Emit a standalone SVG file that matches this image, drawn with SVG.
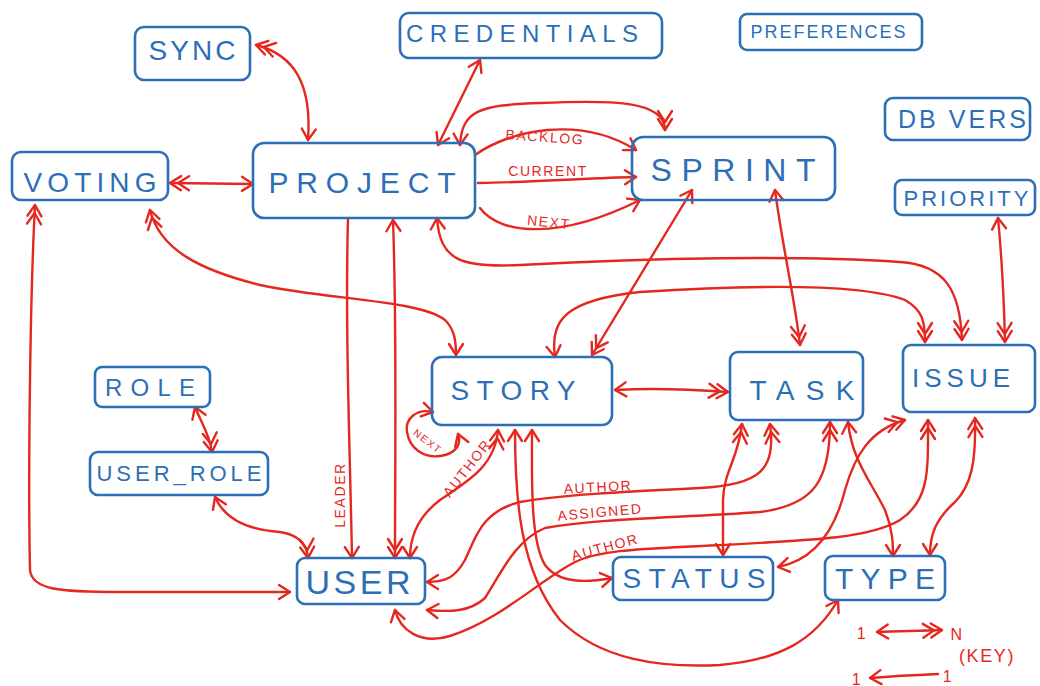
<svg xmlns="http://www.w3.org/2000/svg" width="1040" height="686" viewBox="0 0 1040 686">
  <style>
    .box { fill: none; stroke: #2c6fb7; stroke-width: 2.6; stroke-linejoin: round; }
    .name { fill: #2c6fb7; font-family: "Liberation Sans", "DejaVu Sans", sans-serif; text-anchor: middle; }
    .link { fill: none; stroke: #e5281f; stroke-width: 2.4; stroke-linecap: round; }
    .one-start { marker-start: url(#one); }
    .one-end { marker-end: url(#one); }
    .many-start { marker-start: url(#many); }
    .many-end { marker-end: url(#many); }
    .lbl { fill: #e5281f; font-family: "Liberation Sans", "DejaVu Sans", sans-serif; font-size: 14px; letter-spacing: 1.6px; text-anchor: middle; }
  </style>
  <defs>
    <!-- single chevron: the "1" end -->
    <marker id="one" viewBox="-14 -9 16 18" markerWidth="16" markerHeight="18" refX="0" refY="0" orient="auto-start-reverse" markerUnits="userSpaceOnUse">
      <path d="M-11,-7 L0,0 L-11,7" fill="none" stroke="#e5281f" stroke-width="2.4" stroke-linecap="round" stroke-linejoin="round"/>
    </marker>
    <!-- double chevron: the "N" end -->
    <marker id="many" viewBox="-22 -9 24 18" markerWidth="24" markerHeight="18" refX="0" refY="0" orient="auto-start-reverse" markerUnits="userSpaceOnUse">
      <path d="M-11,-7 L0,0 L-11,7 M-19,-7 L-8,0 L-19,7" fill="none" stroke="#e5281f" stroke-width="2.4" stroke-linecap="round" stroke-linejoin="round"/>
    </marker>
  </defs>
  <rect width="1040" height="686" fill="#ffffff"/>

  <g id="connectors">
    <path class="link many-start one-end" d="M256,45 C295,55 312,85 308,140"/>
    <path class="link one-start one-end" d="M480,60 L438,145"/>
    <path class="link one-start many-end" d="M460,145 C462,110 480,105 540,103 C610,100 665,100 665,130"/>
    <path class="link one-end" d="M475,155 C510,130 580,115 636,150"/>
    <path class="link one-end" d="M478,183 C540,182 590,178 636,177"/>
    <path class="link one-end" d="M480,208 C500,235 560,240 640,200"/>
    <path class="link many-start one-end" d="M170,183 L253,184"/>
    <path class="link one-start many-end" d="M437,218 C440,260 460,268 520,265 C650,258 800,255 900,262 C945,265 960,290 962,340"/>
    <path class="link one-start many-end" d="M555,357 C550,320 565,300 640,292 C750,285 860,283 905,300 C922,310 925,320 925,342"/>
    <path class="link one-start many-end" d="M692,190 L592,355"/>
    <path class="link one-start many-end" d="M775,190 C783,250 795,300 800,345"/>
    <path class="link many-start one-end" d="M150,210 C160,250 200,270 260,285 C330,300 420,300 445,320 C455,330 456,342 456,355"/>
    <path class="link many-start one-end" d="M35,205 C30,300 28,480 30,570 C32,590 60,592 120,592 L290,592"/>
    <path class="link one-start many-end" d="M195,407 C200,420 210,435 212,452"/>
    <path class="link one-start many-end" d="M215,497 C225,520 250,530 280,532 C300,535 307,545 308,558"/>
    <path class="link one-end" d="M348,218 C345,330 350,450 352,558"/>
    <path class="link one-start many-end" d="M393,220 C397,330 395,450 395,558"/>
    <path class="link one-start one-end" d="M433,412 C415,408 405,420 407,432 C410,450 425,458 440,456 C455,454 462,445 458,434"/>
    <path class="link many-start one-end" d="M498,430 C495,465 470,480 440,500 C420,515 410,535 410,558"/>
    <path class="link one-start one-end" d="M515,430 C515,500 520,570 560,620 C600,660 660,668 720,665 C780,660 815,640 838,600"/>
    <path class="link one-start one-end" d="M532,430 C532,480 530,540 545,565 C560,585 590,582 612,578"/>
    <path class="link many-start one-end" d="M770,424 C776,470 760,485 700,488 C620,492 560,495 520,502 C480,512 475,540 465,560 C455,578 445,582 427,582"/>
    <path class="link many-start one-end" d="M830,422 C830,480 815,505 760,512 C680,518 600,518 545,528 C515,540 500,575 485,598 C470,612 450,612 427,610"/>
    <path class="link many-start one-end" d="M928,420 C928,470 930,500 900,520 C870,538 820,540 700,546 C640,549 600,550 575,562 C540,580 500,620 450,636 C420,645 400,630 395,610"/>
    <path class="link many-start one-end" d="M742,424 C738,460 724,470 723,500 L723,555"/>
    <path class="link one-start one-end" d="M848,422 C852,460 870,480 885,510 C893,530 893,545 893,556"/>
    <path class="link many-start one-end" d="M905,420 C870,430 855,455 845,490 C835,530 815,560 778,567"/>
    <path class="link many-start one-end" d="M975,418 C976,460 972,485 955,502 C935,520 930,535 930,555"/>
    <path class="link one-start many-end" d="M615,390 C650,388 700,390 728,392"/>
    <path class="link one-start many-end" d="M998,218 C1002,260 1004,300 1005,342"/>

    <!-- relation names -->
    <text class="lbl" x="545" y="142" transform="rotate(4 545 137)">BACKLOG</text>
    <text class="lbl" x="548" y="176">CURRENT</text>
    <text class="lbl" x="549" y="227" transform="rotate(6 549 222)">NEXT</text>
    <text class="lbl" x="340" y="500" transform="rotate(-90 340 495)">LEADER</text>
    <text class="lbl" style="font-size:10px" x="428" y="445" transform="rotate(38 428 441)">NEXT</text>
    <text class="lbl" x="467" y="473" transform="rotate(-52 467 468)">AUTHOR</text>
    <text class="lbl" x="598" y="492" transform="rotate(-3 598 487)">AUTHOR</text>
    <text class="lbl" x="600" y="517" transform="rotate(-5 600 512)">ASSIGNED</text>
    <text class="lbl" x="605" y="552" transform="rotate(-15 605 547)">AUTHOR</text>
  </g>

  <g id="node-sync">
    <rect class="box" x="135" y="27" width="115" height="53" rx="9"/>
    <text class="name" x="192" y="60" font-size="28" textLength="87" lengthAdjust="spacing">SYNC</text>
  </g>
  <g id="node-credentials">
    <rect class="box" x="400" y="13" width="262" height="45" rx="9"/>
    <text class="name" x="522" y="42" font-size="24" textLength="232" lengthAdjust="spacing">CREDENTIALS</text>
  </g>
  <g id="node-preferences">
    <rect class="box" x="740" y="14" width="182" height="36" rx="7"/>
    <text class="name" x="828" y="38" font-size="18" textLength="155" lengthAdjust="spacing">PREFERENCES</text>
  </g>
  <g id="node-dbvers">
    <rect class="box" x="885" y="98" width="145" height="42" rx="8"/>
    <text class="name" x="962" y="128" font-size="25" textLength="128" lengthAdjust="spacing">DB VERS</text>
  </g>
  <g id="node-priority">
    <rect class="box" x="895" y="180" width="140" height="35" rx="7"/>
    <text class="name" x="966" y="206" font-size="22" textLength="125" lengthAdjust="spacing">PRIORITY</text>
  </g>
  <g id="node-voting">
    <rect class="box" x="12" y="152" width="156" height="48" rx="9"/>
    <text class="name" x="90" y="192" font-size="28" textLength="133" lengthAdjust="spacing">VOTING</text>
  </g>
  <g id="node-project">
    <rect class="box" x="253" y="143" width="222" height="75" rx="11"/>
    <text class="name" x="362" y="193" font-size="30" textLength="187" lengthAdjust="spacing">PROJECT</text>
  </g>
  <g id="node-sprint">
    <rect class="box" x="632" y="137" width="203" height="63" rx="11"/>
    <text class="name" x="733" y="181" font-size="32" textLength="165" lengthAdjust="spacing">SPRINT</text>
  </g>
  <g id="node-role">
    <rect class="box" x="95" y="367" width="115" height="40" rx="7"/>
    <text class="name" x="150" y="396" font-size="24" textLength="90" lengthAdjust="spacing">ROLE</text>
  </g>
  <g id="node-user_role">
    <rect class="box" x="90" y="452" width="178" height="43" rx="8"/>
    <text class="name" x="179" y="481" font-size="22" textLength="165" lengthAdjust="spacing">USER_ROLE</text>
  </g>
  <g id="node-story">
    <rect class="box" x="432" y="357" width="180" height="68" rx="10"/>
    <text class="name" x="513" y="400" font-size="28" textLength="125" lengthAdjust="spacing">STORY</text>
  </g>
  <g id="node-task">
    <rect class="box" x="730" y="352" width="133" height="68" rx="8"/>
    <text class="name" x="802" y="400" font-size="28" textLength="105" lengthAdjust="spacing">TASK</text>
  </g>
  <g id="node-issue">
    <rect class="box" x="903" y="345" width="132" height="67" rx="8"/>
    <text class="name" x="961" y="387" font-size="26" textLength="98" lengthAdjust="spacing">ISSUE</text>
  </g>
  <g id="node-user">
    <rect class="box" x="297" y="558" width="128" height="46" rx="8"/>
    <text class="name" x="358" y="594" font-size="34" textLength="105" lengthAdjust="spacing">USER</text>
  </g>
  <g id="node-status">
    <rect class="box" x="613" y="557" width="160" height="43" rx="8"/>
    <text class="name" x="694" y="588" font-size="28" textLength="143" lengthAdjust="spacing">STATUS</text>
  </g>
  <g id="node-type">
    <rect class="box" x="825" y="556" width="120" height="44" rx="8"/>
    <text class="name" x="885" y="589" font-size="30" textLength="100" lengthAdjust="spacing">TYPE</text>
  </g>

  <g id="key">
    <text class="lbl" x="862" y="639" style="font-size:16px">1</text>
    <path class="link one-start many-end" d="M877,632 C900,631 920,631 942,630"/>
    <text class="lbl" x="957" y="640" style="font-size:16px">N</text>
    <text class="lbl" x="987" y="662" style="font-size:18px">(KEY)</text>
    <text class="lbl" x="857" y="685" style="font-size:16px">1</text>
    <path class="link one-start" d="M870,678 C895,676 915,675 938,674"/>
    <text class="lbl" x="948" y="682" style="font-size:16px">1</text>
  </g>
</svg>
